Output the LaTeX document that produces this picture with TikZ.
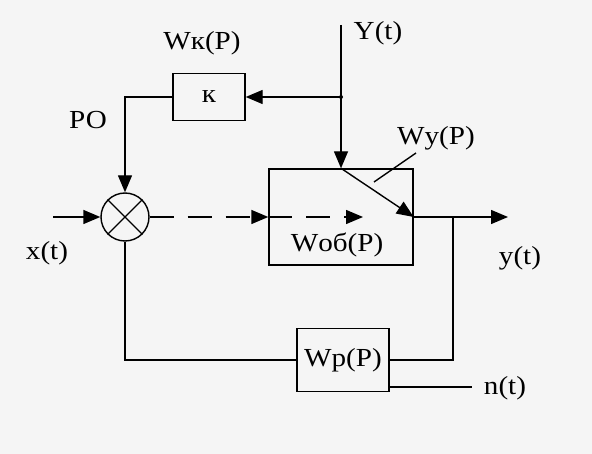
\documentclass[tikz,border=0pt]{standalone}
\usepackage{fontspec}
\setmainfont[FakeStretch=1.12]{Liberation Serif}
\usetikzlibrary{arrows.meta}
\begin{document}
\begin{tikzpicture}[x=1pt,y=-1pt,line width=1.4pt,
        >={Triangle[length=17pt,width=14pt]},
        lbl/.style={font=\fontsize{26}{30}\selectfont,inner sep=0pt},
        blk/.style={draw,lbl,inner sep=0pt},
        dsh/.style={dash pattern=on 24pt off 14pt}]
        \fill[black!4] (0,0) rectangle (592,454);
        \useasboundingbox (0,0) rectangle (592,454);
        \node[draw,circle,minimum size=48pt,inner sep=0pt] (sum) at (125,217) {};
        \draw (sum.north west) -- (sum.south east) (sum.north east) -- (sum.south west);
        \node[blk,minimum width=144pt,minimum height=96pt] (wob) at (341,217) {};
        \node[lbl] (woblbl) at (337,245) {Wоб(P)};
        \node[blk,minimum width=72pt,minimum height=47pt] (k) at (209,97) {к};
        \node[blk,minimum width=92pt,minimum height=63pt] (wr) at (343,360) {Wр(P)};
        \coordinate (ytop) at (341,25);
        \coordinate (jn) at (341,97);
        \coordinate (xin) at (53,217);
        \coordinate (yout) at (508,217);
        \coordinate (br) at (453,217);
        \coordinate (inner) at (363,217);
        \coordinate (nend) at (472,387);
        \coordinate (wy1) at (374,182);
        \coordinate (wy2) at (416,153);
        \fill (jn) circle (2pt);
        \draw[->] (ytop) -- (wob.north);
        \draw[->] (jn) -- (k.east);
        \draw[->] (k.west) -| (sum.north);
        \draw[->] (xin) -- (sum.west);
        \draw[->,dsh] (sum.east) -- (wob.west);
        \draw[->,dsh] (wob.west) -- (inner);
        \draw[->] (wob.north) -- (wob.east);
        \draw[->] (wob.east) -- (yout);
        \draw (br) |- (wr.east);
        \draw (sum.south) |- (wr.west);
        \draw (wr.east |- nend) -- (nend);
        \draw (wy1) -- (wy2);
        \node[lbl] (ylbl) at (378,33) {Y(t)};
        \node[lbl] (wklbl) at (202,43) {Wк(P)};
        \node[lbl] (po) at (88,120) {РО};
        \node[lbl] (wylbl) at (436,138) {Wу(P)};
        \node[lbl] (xlbl) at (47,253) {x(t)};
        \node[lbl] (youtlbl) at (520,258) {y(t)};
        \node[lbl] (nlbl) at (505,388) {n(t)};
\end{tikzpicture}
\end{document}
